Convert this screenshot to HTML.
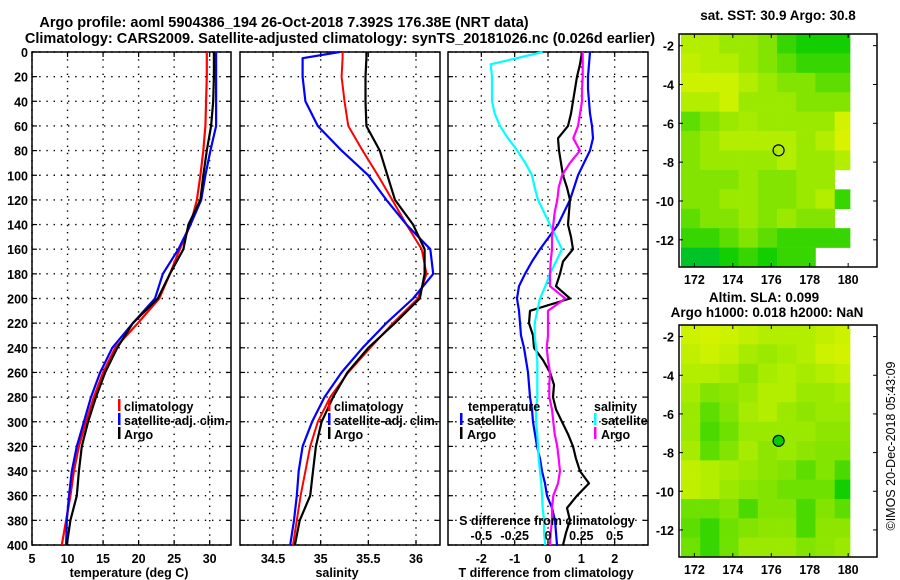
<!DOCTYPE html>
<html><head><meta charset="utf-8"><style>
html,body{margin:0;padding:0;background:#fff;}
svg{display:block;font-family:"Liberation Sans",Arial,sans-serif;font-weight:bold;}
text{font-size:12.5px;fill:#000;}
</style></head><body>
<svg id="fig" width="900" height="580" viewBox="0 0 900 580">
<text x="284" y="27" text-anchor="middle" style="font-size:14.5px">Argo profile: aoml 5904386_194 26-Oct-2018 7.392S 176.38E (NRT data)</text>
<text x="340" y="43" text-anchor="middle" style="font-size:14.5px">Climatology: CARS2009. Satellite-adjusted climatology: synTS_20181026.nc (0.026d earlier)</text>
<text x="778" y="20" text-anchor="middle" style="font-size:13.5px">sat. SST: 30.9 Argo: 30.8</text>
<text x="764" y="302" text-anchor="middle" style="font-size:13.5px">Altim. SLA: 0.099</text>
<text x="767" y="317" text-anchor="middle" style="font-size:13.5px">Argo h1000: 0.018 h2000: NaN</text>
<text transform="translate(895,446) rotate(-90)" text-anchor="middle" style="font-weight:normal;font-size:12.5px">©IMOS 20-Dec-2018 05:43:09</text>
</svg>
<script>
// ---------- data ----------
const depth = [0,5,20,40,60,80,100,120,140,160,180,200,220,240,260,280,300,320,340,360,380,400];
const tempClim = [29.6,29.6,29.6,29.5,29.4,29.1,28.7,28.2,27.3,25.8,24.4,22.9,19.9,16.7,15.0,13.7,12.6,11.6,10.9,10.4,9.8,9.2];
const tempSat  = [30.9,30.9,30.9,30.9,30.9,30.1,29.4,28.8,27.3,25.6,23.4,22.3,19.2,16.3,14.6,13.3,12.3,11.3,10.6,10.2,9.9,9.8];
const tempArgo = [30.6,30.6,30.6,30.5,30.2,29.6,29.1,28.7,27.0,26.3,24.4,22.7,19.2,17.0,15.3,14.0,12.9,12.0,11.6,11.3,10.4,9.9];
const salClim = [35.23,35.23,35.22,35.25,35.29,35.44,35.60,35.75,35.90,36.06,36.11,36.02,35.76,35.52,35.29,35.10,34.97,34.89,34.84,34.79,34.75,34.71];
const salSat  = [35.20,34.81,34.81,34.84,34.97,35.22,35.50,35.69,35.90,36.15,36.18,35.97,35.69,35.44,35.22,35.04,34.91,34.81,34.77,34.75,34.72,34.68];
const salArgo = [35.48,35.48,35.47,35.47,35.48,35.62,35.70,35.78,35.97,36.09,36.09,36.04,35.78,35.50,35.28,35.13,35.01,34.95,34.92,34.89,34.78,34.73];
const depthDiff = [0,10,20,30,40,50,60,70,80,90,100,110,120,130,140,150,160,170,180,190,200,210,220,230,240,250,260,270,280,290,300,310,320,330,340,350,360,370,380,390,400];
const tDiffSat  = [1.26,1.23,1.2,1.2,1.23,1.26,1.32,1.35,1.26,1.08,0.9,0.78,0.66,0.48,0.3,0.03,-0.24,-0.48,-0.69,-0.87,-0.93,-0.87,-0.84,-0.81,-0.72,-0.66,-0.6,-0.57,-0.54,-0.48,-0.45,-0.39,-0.33,-0.24,-0.18,-0.09,-0.03,0.12,0.21,0.24,0.27];
const tDiffArgo = [1.02,0.96,0.87,0.81,0.75,0.69,0.6,0.3,0.33,0.39,0.45,0.57,0.66,0.63,0.6,0.69,0.75,0.45,0.36,0.24,0.66,-0.54,-0.57,-0.45,-0.42,-0.15,0.06,0.18,0.15,0.24,0.42,0.6,0.75,0.84,0.96,1.23,0.87,0.57,0.66,0.54,0.45];
const sDiffSat  = [-0.04,-0.43,-0.42,-0.42,-0.42,-0.4,-0.36,-0.3,-0.23,-0.17,-0.12,-0.1,-0.075,-0.03,0.015,0.06,0.105,0.06,0.015,-0.02,-0.06,-0.08,-0.1,-0.1,-0.09,-0.08,-0.08,-0.08,-0.08,-0.09,-0.09,-0.08,-0.075,-0.07,-0.06,-0.05,-0.045,-0.04,-0.03,-0.03,-0.02];
const sDiffArgo = [0.26,0.26,0.26,0.255,0.255,0.24,0.225,0.19,0.24,0.165,0.105,0.08,0.07,0.05,0.04,0.03,0.03,0.02,0.015,0.015,0.13,0,0,0,-0.01,0,0.015,0.01,0.01,0.03,0.04,0.05,0.07,0.08,0.09,0.075,0.04,0.03,0.03,0.02,0.015];
const depthTicks = [0,20,40,60,80,100,120,140,160,180,200,220,240,260,280,300,320,340,360,380,400];
const tempTicks = [5,10,15,20,25,30];
const salTicks = [34.5,35,35.5,36];
const tDiffTicks = [-2,-1,0,1,2];
const sDiffTicks = [-0.5,-0.25,0,0.25,0.5];
const sDiffTickLabels = ["-0.5","-0.25","0","0.25","0.5"];
const lonTicks = [172,174,176,178,180];
const latTicks = [-2,-4,-6,-8,-10,-12];
const mapLon = [171.3,172.3,173.3,174.3,175.3,176.3,177.3,178.3,179.3,180.1];
const mapLat = [-1.4,-2.4,-3.4,-4.4,-5.4,-6.4,-7.4,-8.4,-9.4,-10.4,-11.4,-12.4,-13.35];
const sstGrid = [
[0.7,0.7,0.6,0.6,0.5,0.3,0.2,0.2,0.2],
[0.75,0.7,0.7,0.6,0.5,0.4,0.3,0.3,0.3],
[0.8,0.8,0.8,0.7,0.6,0.5,0.5,0.4,0.4],
[0.7,0.7,0.8,0.6,0.6,0.6,0.5,0.5,0.5],
[0.4,0.5,0.6,0.65,0.6,0.6,0.6,0.6,0.85],
[0.5,0.6,0.7,0.7,0.7,0.7,0.6,0.7,0.9],
[0.5,0.6,0.6,0.6,0.6,0.7,0.6,0.6,0.7],
[0.5,0.5,0.5,0.6,0.5,0.5,0.6,0.6,null],
[0.5,0.5,0.6,0.6,0.5,0.5,0.6,0.7,0.3],
[0.4,0.5,0.5,0.6,0.5,0.6,0.5,0.5,null],
[0.3,0.3,0.4,0.5,0.4,0.3,0.3,0.3,0.3],
[0.1,0.1,0.2,0.3,0.2,0.3,0.3,null,null]];
const slaGrid = [
[0.8,0.85,0.8,0.75,0.7,0.7,0.7,0.75,0.8],
[0.75,0.8,0.75,0.65,0.6,0.65,0.7,0.8,0.85],
[0.7,0.7,0.65,0.55,0.65,0.7,0.65,0.7,0.75],
[0.65,0.5,0.55,0.6,0.7,0.7,0.6,0.6,0.65],
[0.6,0.4,0.5,0.65,0.7,0.6,0.55,0.6,0.6],
[0.6,0.35,0.45,0.6,0.6,0.6,0.6,0.55,0.55],
[0.65,0.4,0.5,0.65,0.55,0.6,0.55,0.5,0.5],
[0.75,0.7,0.65,0.6,0.55,0.5,0.4,0.5,0.35],
[0.75,0.7,0.6,0.55,0.5,0.45,0.45,0.45,0.2],
[0.45,0.45,0.5,0.35,0.5,0.5,0.35,0.5,0.4],
[0.4,0.3,0.45,0.5,0.55,0.55,0.35,0.55,0.55],
[0.45,0.3,0.45,0.6,0.6,0.6,0.5,0.55,0.6]];
const argoLon = 176.38, argoLat = -7.392;

// ---------- helpers ----------
const NS = "http://www.w3.org/2000/svg";
const svg = document.getElementById('fig');
function mk(tag, attrs, parent){ const e=document.createElementNS(NS,tag); for(const k in attrs) e.setAttribute(k,attrs[k]); (parent||svg).appendChild(e); return e; }
function lin(d0,d1,r0,r1){ return v => r0+(v-d0)*(r1-r0)/(d1-d0); }
const TOP=52, BOT=545;
const yD = lin(0,400,TOP,BOT);
const DASH = '1.4 5.8';

function panelFrame(name, x0, x1, showYLabels){
  const g = mk('g',{});
  
  
  depthTicks.forEach(d=>{
    const y=yD(d);
    const gl=mk('line',{x1:x0,x2:x1,y1:y,y2:y,stroke:'#000','stroke-width':1.4,'stroke-dasharray':DASH},g);
    
    
    mk('line',{x1:x0,x2:x0+5,y1:y,y2:y,stroke:'#000','stroke-width':1.2},g);
    mk('line',{x1:x1-5,x2:x1,y1:y,y2:y,stroke:'#000','stroke-width':1.2},g);
    if(showYLabels){
      const t=mk('text',{x:x0-4,y:y+5,'text-anchor':'end'},g); t.textContent=d;
      
      
    }
  });
  return g;
}
function xGrid(g, xs){
  xs.forEach(x=>{
    mk('line',{x1:x,x2:x,y1:TOP,y2:BOT,stroke:'#000','stroke-width':1.4,'stroke-dasharray':DASH},g);
    mk('line',{x1:x,x2:x,y1:TOP,y2:TOP+5,stroke:'#000','stroke-width':1.2},g);
    mk('line',{x1:x,x2:x,y1:BOT-5,y2:BOT,stroke:'#000','stroke-width':1.2},g);
  });
}
function frameRect(g,x0,x1){ mk('rect',{x:x0,y:TOP,width:x1-x0,height:BOT-TOP,fill:'none',stroke:'#000','stroke-width':1.5},g); }
function profile(name, xs, ds, xf, color, w){
  const pts = xs.map((v,i)=>xf(v).toFixed(1)+','+yD(ds[i]).toFixed(1)).join(' ');
  const p = mk('polyline',{points:pts,fill:'none',stroke:color,'stroke-width':w,'stroke-linejoin':'round'});
  
  
}
function label(txt,x,y,anchor,name,parent){
  const t=mk('text',{x:x,y:y,'text-anchor':anchor||'start'},parent); t.textContent=txt;
  
  
  return t;
}
function legendBar(x,y,color,name){
  const r=mk('rect',{x:x,y:y-11,width:2.5,height:12,fill:color});
  
  
}

// ---------- panel 1: temperature ----------
const xT = lin(5,33,32,231);
const g1 = panelFrame('temperature-panel',32,231,true);
xGrid(g1, tempTicks.map(xT));
profile('temp-climatology-line', tempClim, depth, xT, '#ff0000', 2.2);
profile('temp-satellite-line', tempSat, depth, xT, '#0000ff', 2.2);
profile('temp-argo-line', tempArgo, depth, xT, '#000000', 2.2);
frameRect(g1,32,231);
tempTicks.forEach(v=>label(String(v), xT(v), 563,'middle','temp-tick-label'));
label('temperature (deg C)',129,577,'middle','temp-axis-title');
legendBar(118,410,'#ff0000','legend-climatology-swatch'); label('climatology',124,411,'start','legend-climatology');
legendBar(118,424,'#0000ff','legend-satellite-swatch'); label('satellite-adj. clim.',124,425,'start','legend-satellite');
legendBar(118,438,'#000000','legend-argo-swatch'); label('Argo',124,439,'start','legend-argo');

// ---------- panel 2: salinity ----------
const xS = lin(34.5,36,273,416);
const g2 = panelFrame('salinity-panel',240,440,false);
xGrid(g2, salTicks.map(xS));
profile('sal-climatology-line', salClim, depth, xS, '#ff0000', 2);
profile('sal-satellite-line', salSat, depth, xS, '#0000ff', 2.2);
profile('sal-argo-line', salArgo, depth, xS, '#000000', 2.2);
frameRect(g2,240,440);
salTicks.forEach(v=>label(String(v), xS(v), 563,'middle','sal-tick-label'));
label('salinity',337,577,'middle','sal-axis-title');
legendBar(328,410,'#ff0000','legend2-climatology-swatch'); label('climatology',334,411,'start','legend2-climatology');
legendBar(328,424,'#0000ff','legend2-satellite-swatch'); label('satellite-adj. clim.',334,425,'start','legend2-satellite');
legendBar(328,438,'#000000','legend2-argo-swatch'); label('Argo',334,439,'start','legend2-argo');

// ---------- panel 3: differences ----------
const xTd = lin(-3,3,448,648);
const xSd = lin(-0.75,0.75,448,648);
const g3 = panelFrame('difference-panel',448,648,false);
xGrid(g3, tDiffTicks.map(xTd));
profile('tdiff-satellite-line', tDiffSat, depthDiff, xTd, '#0000ff', 2.2);
profile('tdiff-argo-line', tDiffArgo, depthDiff, xTd, '#000000', 2.2);
profile('sdiff-satellite-line', sDiffSat, depthDiff, xSd, '#00ffff', 2.2);
profile('sdiff-argo-line', sDiffArgo, depthDiff, xSd, '#ff00ff', 2.2);
frameRect(g3,448,648);
tDiffTicks.forEach(v=>label(String(v), xTd(v), 563,'middle','tdiff-tick-label'));
label('T difference from climatology',546,577,'middle','tdiff-axis-title');
label('S difference from climatology',547,525,'middle','sdiff-axis-title');
sDiffTicks.forEach((v,i)=>label(sDiffTickLabels[i], xSd(v), 540,'middle','sdiff-tick-label'));
label('temperature',468,411,'start','legend3-temperature-heading');
label('salinity',594,411,'start','legend3-salinity-heading');
legendBar(460,424,'#0000ff','legend3-tsat-swatch'); label('satellite',467,425,'start','legend3-tsat');
legendBar(460,438,'#000000','legend3-targo-swatch'); label('Argo',467,439,'start','legend3-targo');
legendBar(594,424,'#00ffff','legend3-ssat-swatch'); label('satellite',601,425,'start','legend3-ssat');
legendBar(594,438,'#ff00ff','legend3-sargo-swatch'); label('Argo',601,439,'start','legend3-sargo');

// ---------- maps ----------
function colorOf(v){
  const stops=[[0,[0,176,120]],[0.15,[0,204,0]],[0.5,[130,228,0]],[0.8,[204,242,0]],[1,[232,240,0]]];
  for(let i=1;i<stops.length;i++){ if(v<=stops[i][0]){ const a=stops[i-1],b=stops[i]; const f=(v-a[0])/(b[0]-a[0]);
    return 'rgb('+a[1].map((c,k)=>Math.round(c+(b[1][k]-c)*f)).join(',')+')'; } }
  return 'rgb(232,240,0)';
}
function drawMap(name, grid, top, bottom, latTop, latBot, xl, ticksLabelY, filledMarker){
  const xLon = lin(171.2,181.5,679,877);
  const yLat = lin(latTop,latBot,top,bottom);
  const g = mk('g',{});
  
  
  grid.forEach((row,r)=>row.forEach((v,c)=>{
    if(v===null) return;
    const x0=xLon(mapLon[c]), x1=xLon(mapLon[c+1]), y0=yLat(mapLat[r]), y1=yLat(mapLat[r+1]);
    const cell=mk('rect',{x:x0,y:y0,width:x1-x0+0.3,height:y1-y0+0.3,fill:colorOf(v)},g);
    
    
  }));
  mk('rect',{x:679,y:top,width:198,height:bottom-top,fill:'none',stroke:'#000','stroke-width':1.5},g);
  lonTicks.forEach(lo=>{ const x=xLon(lo);
    mk('line',{x1:x,x2:x,y1:top,y2:top+4,stroke:'#000'},g); mk('line',{x1:x,x2:x,y1:bottom-4,y2:bottom,stroke:'#000'},g);
    label(String(lo),x,ticksLabelY,'middle','lon-tick-label',g); });
  latTicks.forEach(la=>{ const y=yLat(la);
    mk('line',{x1:679,x2:683,y1:y,y2:y,stroke:'#000'},g); mk('line',{x1:873,x2:877,y1:y,y2:y,stroke:'#000'},g);
    label(String(la),674,y+5,'end','lat-tick-label',g); });
  const m=mk('circle',{cx:xLon(argoLon),cy:yLat(argoLat),r:5.5,fill:filledMarker?'#00cc00':'none',stroke:'#000','stroke-width':1.2},g);
  
  
}
drawMap('sst-map', sstGrid, 34, 267, -1.4, -13.4, 0, 284, false);
drawMap('sla-map', slaGrid, 325, 557, -1.4, -13.4, 0, 574, true);
</script>
</body></html>
